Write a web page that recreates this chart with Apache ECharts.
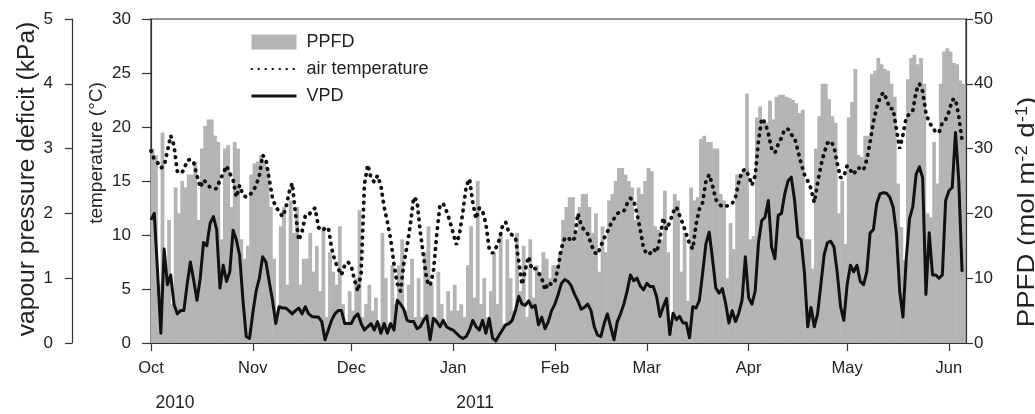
<!DOCTYPE html>
<html>
<head>
<meta charset="utf-8">
<script src="https://cdn.jsdelivr.net/npm/echarts@6.0.0/dist/echarts.min.js"></script>
<style>
html, body { margin: 0; padding: 0; background: #ffffff; }
#chart { width: 1035px; height: 414px; }
</style>
</head>
<body>
<div id="chart"></div>
<script>
// Daily series, day 0 = 1 Oct 2010
const startDate = '2010-10-01';
const monthLabels = ['Oct', 'Nov', 'Dec', 'Jan', 'Feb', 'Mar', 'Apr', 'May', 'Jun'];
const monthStartDays = [0, 31, 61, 92, 123, 151, 182, 212, 243];
const yearLabels = ['2010', '2011'];
const axisTitles = ['temperature (°C)', 'vapour pressure deficit (kPa)', 'PPFD (mol m{sup|-2} d{sup|-1})'];

// PPFD (mol m-2 d-1), right axis
const ppfd = [
  30, 29, 9, 32.5, 11, 19, 6, 24, 20, 25, 24, 26, 26, 28, 19, 30, 33.5, 34.5, 34.5, 32, 31, 16, 30, 30.5, 21, 31, 30, 16, 13, 15, 26,
  27.7, 28, 29, 28, 27, 21, 13, 5, 18, 21, 9, 22, 17, 21, 9, 13, 13, 17, 11, 15, 8, 18, 4, 14, 11, 9, 18, 6, 3, 8,
  5, 10, 20.5, 4, 6, 9, 5, 7, 3, 17, 10, 3, 12, 6, 12, 16, 5, 9, 13, 4, 10, 4, 14, 18, 9, 4, 11, 6, 3, 8, 5,
  9, 5, 6, 4, 12, 18, 7, 25, 6, 10, 4, 8, 14, 6, 17, 3, 16, 10, 5, 17, 8, 15, 4, 16, 7, 12, 11, 14, 13, 10, 12,
  12, 14, 19, 21, 22.5, 22.5, 17, 21, 23, 23, 21, 17, 20, 11, 18, 14, 22, 23, 25, 27, 27, 26, 25, 24, 19, 24, 23, 25,
  27, 26.5, 18, 17.5, 16, 23.5, 14, 2, 23, 22, 11, 17, 6.5, 24, 22, 22.5, 31.5, 32, 31, 31, 30, 30, 23, 22, 10, 18.5, 14.5, 26, 26, 26.5, 38.5,
  16, 16.5, 34.8, 36.5, 34.5, 34, 37.4, 34.5, 38, 38.3, 38.3, 38, 37.8, 37.5, 37, 35.5, 36, 16, 16, 11.5, 30, 35, 40, 40, 37.6, 35, 34, 20, 25, 15.3,
  34.8, 37.2, 42.3, 29, 28.7, 32, 32, 41.5, 42, 44, 43, 42.3, 42, 40, 38, 24.6, 17.9, 12.8, 40.7, 44, 44.5, 43, 44, 40, 20, 19.4, 31, 24.6, 40, 45, 45.5,
  45, 43.2, 43, 40.5, 40
];

// air temperature (°C), inner left axis
const airTemperature = [
  17.8, 17.0, 16.7, 16.2, 16.4, 17.8, 19.2, 18.3, 15.9, 15.7, 16.0, 16.9, 17.0, 16.7, 15.5, 14.4, 15.1, 14.8, 14.4, 14.3, 14.3, 15.1, 15.7, 16.4, 15.7, 15.1, 13.5, 14.6, 13.7, 13.5, 13.7,
  14.0, 14.6, 15.5, 17.4, 17.0, 15.2, 13.4, 12.6, 12.2, 11.7, 12.4, 13.9, 14.8, 12.0, 9.5, 10.3, 11.8, 11.8, 12.3, 12.5, 10.7, 10.4, 10.6, 10.7, 8.8, 7.6, 6.9, 6.3, 7.2, 7.5,
  7.1, 5.8, 4.8, 6.5, 14.7, 16.5, 15.3, 14.9, 15.5, 14.6, 12.6, 11.2, 9.6, 7.3, 5.5, 4.8, 7.4, 9.0, 11.0, 13.5, 13.2, 10.3, 8.0, 5.8, 5.3, 6.6, 10.0, 12.8, 12.9, 12.2, 11.3,
  10.2, 9.1, 10.2, 12.2, 14.5, 15.2, 13.0, 11.5, 12.5, 12.2, 11.0, 8.7, 8.3, 8.8, 9.5, 10.8, 11.2, 10.2, 10.0, 9.8, 7.5, 5.4, 6.8, 8.0, 6.8, 6.9, 6.5, 6.0, 4.9, 5.6, 5.4,
  5.7, 7.0, 8.8, 9.7, 9.8, 9.4, 9.7, 12.0, 10.9, 10.4, 10.1, 9.2, 8.4, 8.2, 9.0, 9.7, 10.3, 11.0, 11.5, 12.0, 12.1, 12.2, 12.9, 13.4, 13.2, 12.0, 10.5, 8.8,
  8.2, 8.3, 8.7, 8.4, 9.7, 11.6, 10.5, 11.2, 12.1, 12.6, 11.8, 11.0, 10.1, 9.2, 8.7, 11.0, 12.4, 13.0, 15.0, 15.6, 14.6, 13.3, 12.9, 12.6, 12.7, 12.7, 12.9, 13.5, 14.9, 15.9, 16.1,
  15.5, 14.6, 15.5, 18.7, 20.8, 20.4, 19.4, 18.0, 17.6, 18.4, 19.0, 19.8, 19.8, 19.3, 19.0, 17.8, 16.6, 15.6, 15.0, 14.3, 13.0, 14.8, 16.4, 17.6, 18.5, 18.7, 18.2, 16.6, 15.3, 15.4,
  16.4, 16.0, 15.6, 16.2, 16.2, 16.0, 17.0, 18.6, 20.5, 21.8, 22.7, 23.2, 22.6, 21.7, 21.7, 19.8, 18.0, 19.3, 20.9, 21.2, 21.5, 23.3, 24.0, 23.3, 21.3, 20.4, 20.0, 19.5, 19.5, 20.4, 20.7,
  21.4, 22.5, 22.6, 21.0, 18.8
];

// VPD (kPa), outer left axis
const vpd = [
  1.9, 2.0, 1.1, 0.15, 1.45, 0.9, 1.05, 0.6, 0.45, 0.5, 0.5, 0.9, 1.25, 0.97, 0.66, 1.0, 1.55, 1.5, 1.85, 1.95, 1.75, 0.85, 1.2, 0.95, 1.1, 1.74, 1.59, 1.35, 0.66, 0.1, 0.07,
  0.46, 0.8, 1.0, 1.33, 1.25, 0.95, 0.66, 0.3, 0.56, 0.54, 0.54, 0.5, 0.45, 0.5, 0.54, 0.45, 0.56, 0.45, 0.41, 0.4, 0.4, 0.33, 0.05, 0.2, 0.35, 0.45, 0.5, 0.5, 0.3, 0.3,
  0.3, 0.4, 0.45, 0.3, 0.2, 0.25, 0.3, 0.2, 0.33, 0.15, 0.3, 0.15, 0.3, 0.2, 0.66, 0.6, 0.52, 0.35, 0.33, 0.33, 0.22, 0.25, 0.35, 0.42, 0.05, 0.38, 0.33, 0.25, 0.35, 0.25, 0.22,
  0.2, 0.15, 0.1, 0.07, 0.1, 0.2, 0.35, 0.25, 0.2, 0.35, 0.15, 0.38, 0.08, 0.03, 0.12, 0.2, 0.28, 0.3, 0.35, 0.5, 0.72, 0.6, 0.58, 0.65, 0.55, 0.58, 0.28, 0.4, 0.22, 0.33, 0.5,
  0.6, 0.75, 0.92, 0.98, 0.95, 0.88, 0.75, 0.65, 0.52, 0.55, 0.6, 0.5, 0.25, 0.12, 0.1, 0.3, 0.45, 0.25, 0.05, 0.33, 0.45, 0.6, 0.8, 1.05, 0.96, 1.0, 0.88, 0.82,
  0.92, 0.87, 0.87, 0.71, 0.41, 0.56, 0.69, 0.13, 0.46, 0.36, 0.41, 0.31, 0.31, 0.08, 0.56, 0.54, 0.66, 1.08, 1.53, 1.71, 1.3, 0.85, 0.77, 0.84, 0.61, 0.31, 0.5, 0.33, 0.46, 0.66, 1.33,
  0.7, 0.6, 0.8, 1.55, 1.89, 1.94, 2.2, 1.48, 1.3, 1.97, 2.0, 2.3, 2.5, 2.56, 2.2, 1.64, 1.59, 1.08, 0.25, 0.55, 0.25, 0.45, 0.9, 1.36, 1.55, 1.57, 1.48, 1.08, 0.56, 0.35,
  0.9, 1.2, 1.1, 1.2, 0.95, 0.9, 1.1, 1.7, 1.75, 2.15, 2.3, 2.32, 2.31, 2.25, 2.1, 1.7, 0.8, 0.4, 1.3, 1.92, 2.1, 2.6, 2.72, 2.55, 0.75, 1.7, 1.05, 1.05, 1.0, 1.05, 2.2,
  2.35, 2.4, 3.25, 2.5, 1.1
];

const FONT = "'Liberation Sans', Arial, Helvetica, sans-serif";
const AXIS_COLOR = '#333333';
const TEXT_COLOR = '#222222';
const X_MAX = 248.2;

const chart = echarts.init(document.getElementById('chart'), null, { renderer: 'canvas' });

const axisLineStyle = { color: AXIS_COLOR, width: 1.2 };
const hiddenSymbol = { opacity: 0, color: 'rgba(0,0,0,0)', borderWidth: 0 };

const option = {
  animation: false,
  backgroundColor: '#ffffff',
  textStyle: { fontFamily: FONT },
  grid: {
    left: 151, right: 69, top: 19, bottom: 71,
    show: true, borderColor: AXIS_COLOR, borderWidth: 1.2, backgroundColor: 'transparent'
  },
  legend: {
    orient: 'vertical',
    left: 250, top: 33, padding: 0,
    itemWidth: 45, itemHeight: 15, itemGap: 9,
    selectedMode: false,
    textStyle: { fontSize: 18, color: TEXT_COLOR, fontFamily: FONT, padding: [0, 0, 0, 5], lineHeight: 15 },
    data: [
      { name: 'PPFD', icon: 'rect' },
      { name: 'air temperature', itemStyle: hiddenSymbol },
      { name: 'VPD', itemStyle: hiddenSymbol, lineStyle: { width: 3 } }
    ]
  },
  graphic: [
    {
      type: 'text', x: 97, y: 153, rotation: Math.PI / 2, silent: true,
      style: {
        text: axisTitles[0], fontSize: 19, fontFamily: FONT, fill: TEXT_COLOR,
        align: 'center', verticalAlign: 'middle'
      }
    },
    {
      type: 'text', x: 28, y: 179, rotation: Math.PI / 2, scaleX: 1.07, silent: true,
      style: {
        text: axisTitles[1], fontSize: 23, fontFamily: FONT, fill: TEXT_COLOR,
        align: 'center', verticalAlign: 'middle'
      }
    },
    {
      type: 'text', x: 1027, y: 212, rotation: Math.PI / 2, scaleX: 1.15, silent: true,
      style: {
        text: axisTitles[2], fontSize: 24, fontFamily: FONT, fill: TEXT_COLOR,
        align: 'center', verticalAlign: 'middle',
        rich: { sup: { fontSize: 16, fontFamily: FONT, fill: TEXT_COLOR, verticalAlign: 'top' } }
      }
    }
  ],
  xAxis: [
    {
      type: 'value', min: 0, max: X_MAX, position: 'bottom',
      axisLine: { show: true, onZero: false, lineStyle: axisLineStyle },
      axisTick: { show: true, customValues: monthStartDays, length: 8, lineStyle: axisLineStyle },
      axisLabel: {
        customValues: monthStartDays,
        formatter: function (v) { const i = monthStartDays.indexOf(v); return i >= 0 ? monthLabels[i] : ''; },
        fontSize: 16.5, color: TEXT_COLOR, margin: 17, fontFamily: FONT
      },
      splitLine: { show: false }
    },
    {
      type: 'value', min: 0, max: X_MAX, position: 'bottom',
      axisLine: { show: false, onZero: false }, axisTick: { show: false },
      axisLabel: {
        customValues: [7.3, 98.7],
        formatter: function (v) { return v < 50 ? yearLabels[0] : yearLabels[1]; },
        fontSize: 17.5, color: TEXT_COLOR, margin: 51, fontFamily: FONT
      },
      splitLine: { show: false }
    }
  ],
  yAxis: [
    {
      type: 'value', min: 0, max: 30, interval: 5, position: 'left', offset: 0,
      axisLine: { show: true, onZero: false, lineStyle: axisLineStyle },
      axisTick: { show: true, length: 9, lineStyle: axisLineStyle },
      axisLabel: { fontSize: 17, color: TEXT_COLOR, margin: 20, fontFamily: FONT },
      splitLine: { show: false }
    },
    {
      type: 'value', min: 0, max: 5, interval: 1, position: 'left', offset: 79,
      axisLine: { show: true, onZero: false, lineStyle: axisLineStyle },
      axisTick: { show: true, length: 7, lineStyle: axisLineStyle },
      axisLabel: { fontSize: 17, color: TEXT_COLOR, margin: 19, fontFamily: FONT },
      splitLine: { show: false }
    },
    {
      type: 'value', min: 0, max: 50, interval: 10, position: 'right', offset: 0,
      axisLine: { show: true, onZero: false, lineStyle: axisLineStyle },
      axisTick: { show: true, length: 7, lineStyle: axisLineStyle },
      axisLabel: { fontSize: 17, color: TEXT_COLOR, margin: 8, fontFamily: FONT },
      splitLine: { show: false }
    }
  ],
  series: [
    {
      name: 'PPFD', type: 'bar', xAxisIndex: 0, yAxisIndex: 2,
      barWidth: 3.8,
      itemStyle: { color: '#b4b4b4' },
      emphasis: { disabled: true },
      z: 1,
      data: ppfd.map(function (v, i) { return [i + 0.5, v]; })
    },
    {
      name: 'air temperature', type: 'line', xAxisIndex: 0, yAxisIndex: 0,
      symbol: 'none', showSymbol: false,
      lineStyle: { color: '#111111', width: 3.8, type: [0.5, 6.5], cap: 'round' },
      itemStyle: { color: '#111111' },
      emphasis: { disabled: true },
      z: 3,
      data: airTemperature.map(function (v, i) { return [i, v]; })
    },
    {
      name: 'VPD', type: 'line', xAxisIndex: 0, yAxisIndex: 1,
      symbol: 'none', showSymbol: false,
      lineStyle: { color: '#111111', width: 3, join: 'round' },
      itemStyle: { color: '#111111' },
      emphasis: { disabled: true },
      z: 4,
      data: vpd.map(function (v, i) { return [i, v]; })
    }
  ]
};

chart.setOption(option);
</script>
</body>
</html>
